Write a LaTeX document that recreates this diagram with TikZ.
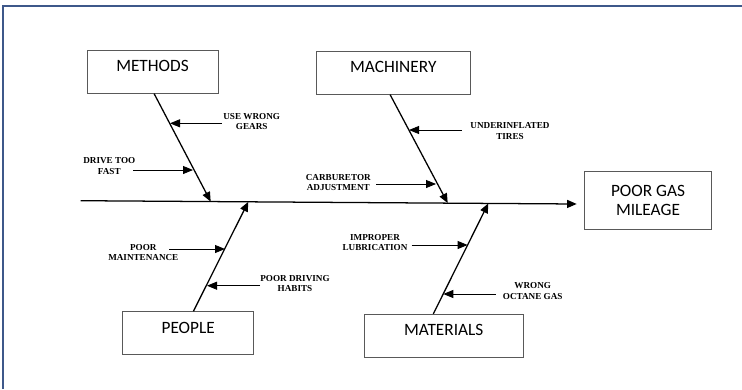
\documentclass[tikz,border=0pt]{standalone}
\usepackage{fontspec}
\usepackage{tikz}
\usetikzlibrary{arrows.meta}
\newfontfamily\boxfont{Carlito}
\newfontfamily\causefont{Liberation Serif}
\definecolor{frm}{RGB}{62,88,138}
\tikzstyle{box1}=[draw = black!65, line width = .6pt, minimum height = 1.075cm, text height = 8pt, text depth = 8pt, font = \boxfont\fontsize{12.3}{15}\selectfont]
\tikzstyle{box2}=[draw = black!65, line width = .6pt, minimum width = 3.18cm, minimum height = 1.45cm, align = center, font = \boxfont\fontsize{12.3}{15.3}\selectfont]
\tikzstyle{txt1}=[align = center, inner sep = 0pt, font = \causefont\bfseries\fontsize{6.5}{7.4}\selectfont]
\tikzstyle{ar1}=[line width = .9pt, -{Triangle[length = .24cm, width = .2cm]}]
\tikzstyle{ar2}=[line width = .6pt, -{Triangle[length = .25cm, width = .2cm]}]

\begin{document}
\begin{tikzpicture}[x = .025cm, y = -.025cm]
  \useasboundingbox (0,0) rectangle (742,389);
  \draw[frm, line width = 1.2pt] (3,389) -- (3,6) -- (742,6);
  % boxes
  \node[box1, minimum width = 3.275cm] (methods) at (152.5,71.7) {METHODS};
  \node[box1, minimum width = 3.83cm] (machinery) at (393.3,72.7) {MACHINERY};
  \node[box1, minimum width = 3.275cm] (people) at (188.2,333.2) {PEOPLE};
  \node[box1, minimum width = 3.97cm] (materials) at (443.7,335.8) {MATERIALS};
  \node[box2] (effect) at (648,200.3) {POOR GAS\\[-2pt]MILEAGE};
  % spine
  \coordinate (tail) at (80.7,200.7);
  \coordinate (head) at (576.7,204);
  \coordinate (m1) at (210.7,201.6);
  \coordinate (c1) at (447.7,203.1);
  \coordinate (p1) at (248.3,201.8);
  \coordinate (t1) at (488.3,203.4);
  \draw[ar1] (tail) -- (head);
  \draw[ar1] ([xshift = .04cm]methods.south) -- (m1);
  \draw[ar1] ([xshift = -.08cm]machinery.south) -- (c1);
  \draw[ar1] ([xshift = .13cm]people.north) -- (p1);
  \draw[ar1] ([xshift = -.26cm]materials.north) -- (t1);
  % causes
  \node[txt1] (gears) at (251.7,121.3) {USE WRONG\\GEARS};
  \node[txt1] (fast) at (109.3,166) {DRIVE TOO\\FAST};
  \node[txt1] (tires) at (510,131.2) {UNDERINFLATED\\TIRES};
  \node[txt1] (carb) at (338.3,182.7) {CARBURETOR\\ADJUSTMENT};
  \node[txt1] (maint) at (143.3,252.5) {POOR\\MAINTENANCE};
  \node[txt1] (habits) at (295,283.5) {POOR DRIVING\\HABITS};
  \node[txt1] (lubr) at (375,242.8) {IMPROPER\\LUBRICATION};
  \node[txt1] (octane) at (532.7,291) {WRONG\\OCTANE GAS};
  \coordinate (g0) at (221.7,123.3); \coordinate (g1) at (170,123.3);
  \coordinate (f0) at (133.3,170); \coordinate (f1) at (193,170);
  \coordinate (u0) at (461.7,130); \coordinate (u1) at (409,130);
  \coordinate (a0) at (376,184); \coordinate (a1) at (436,184);
  \coordinate (n0) at (169.3,249); \coordinate (n1) at (225,249);
  \coordinate (h0) at (260,285.7); \coordinate (h1) at (207,285.7);
  \coordinate (l0) at (411.7,245); \coordinate (l1) at (467.6,245);
  \coordinate (o0) at (495.7,294); \coordinate (o1) at (443.3,294);
  \draw[ar2] (g0) -- (g1);
  \draw[ar2] (f0) -- (f1);
  \draw[ar2] (u0) -- (u1);
  \draw[ar2] (a0) -- (a1);
  \draw[ar2] (n0) -- (n1);
  \draw[ar2] (h0) -- (h1);
  \draw[ar2] (l0) -- (l1);
  \draw[ar2] (o0) -- (o1);
\end{tikzpicture}
\end{document}
